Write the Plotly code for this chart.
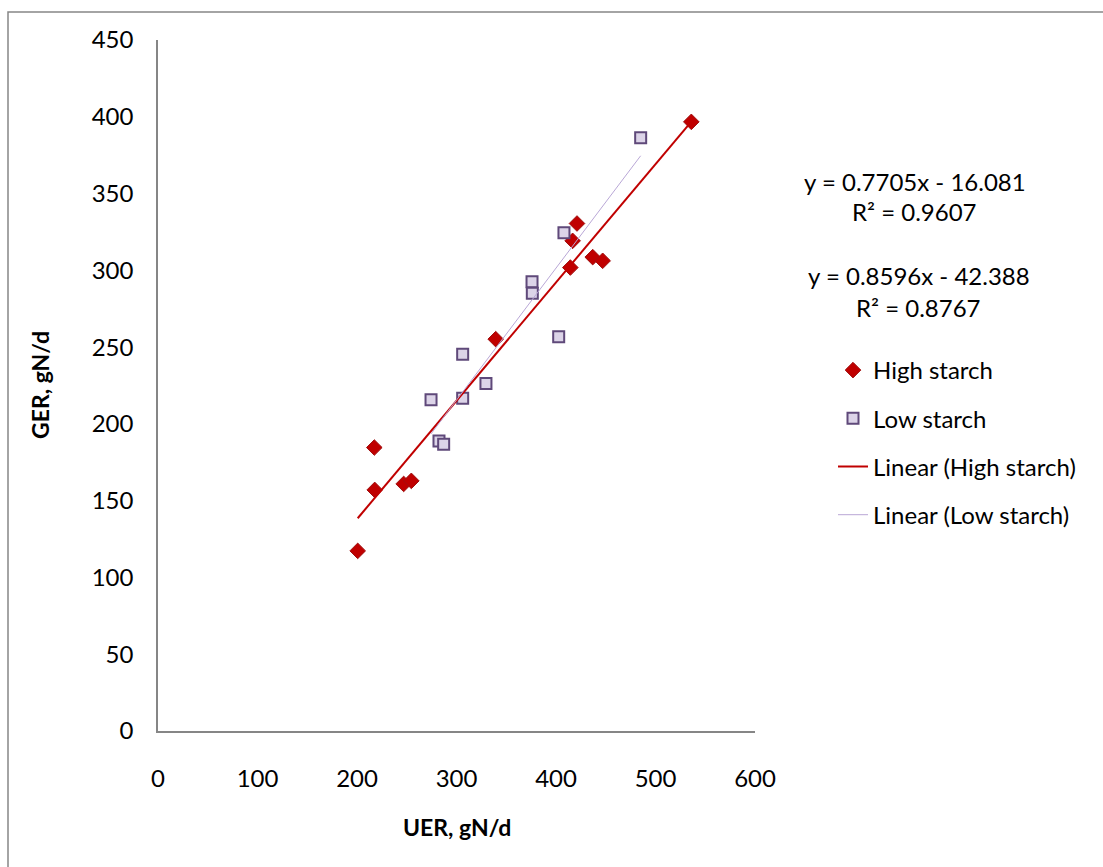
import plotly.graph_objects as go

# ---- data ----
high_x = [200.7, 217.4, 217.8, 246.9, 254.6, 339.4, 414.4, 416.7, 421.1, 436.9, 446.9, 536.0]
high_y = [117.3, 184.6, 157.0, 160.9, 162.9, 255.2, 301.8, 319.2, 330.5, 308.6, 306.2, 396.7]

low_x = [274.4, 282.4, 287.1, 306.2, 306.2, 329.6, 375.9, 376.2, 402.7, 408.0, 485.1]
low_y = [215.8, 188.9, 186.8, 216.7, 245.4, 226.3, 292.5, 285.1, 256.7, 324.4, 386.3]

high_slope, high_intercept = 0.7705, -16.081
low_slope, low_intercept = 0.8596, -42.388
high_r2 = 0.9607
low_r2 = 0.8767

x_ticks = [0, 100, 200, 300, 400, 500, 600]
y_ticks = [0, 50, 100, 150, 200, 250, 300, 350, 400, 450]

FONT = "Lato"
FS = 24
W, H = 1103, 867
L, R, T, B = 158, 348, 40, 136

hx = [min(high_x), max(high_x)]
hy = [high_slope * v + high_intercept for v in hx]
lx = [min(low_x), max(low_x)]
ly = [low_slope * v + low_intercept for v in lx]

fig = go.Figure()
fig.add_trace(go.Scatter(x=high_x, y=high_y, mode="markers", name="High starch",
                         marker=dict(symbol="diamond", size=12, color="#C00000",
                                     line=dict(color="#A01010", width=1)),
                         legendgroup="a"))
fig.add_trace(go.Scatter(x=low_x, y=low_y, mode="markers", name="Low starch",
                         marker=dict(symbol="square", size=11, color="#DCD4E8",
                                     line=dict(color="#5F497A", width=2)),
                         legendgroup="b"))
fig.add_trace(go.Scatter(x=hx, y=hy, mode="lines", name="Linear (High starch)",
                         line=dict(color="#C00000", width=2), legendgroup="c"))
fig.add_trace(go.Scatter(x=lx, y=ly, mode="lines", name="Linear (Low starch)",
                         line=dict(color="#B9A7D6", width=1), legendgroup="d"))

axis_common = dict(showgrid=False, zeroline=False, showline=True,
                   linecolor="#868686", linewidth=1.5, ticks="",
                   tickfont=dict(family=FONT, size=FS, color="#000000"))
fig.update_xaxes(range=[0, 600], tickvals=x_ticks, ticklabelstandoff=25, **axis_common)
fig.update_yaxes(range=[0, 450], tickvals=y_ticks, ticklabelstandoff=18, **axis_common)

pw = W - L - R
ph = H - T - B

def px(xp):
    return (xp - L) / pw

def py(yp):
    return (H - B - yp) / ph

def ann(text, x, y, size=FS, angle=0):
    return dict(text=text, x=px(x), y=py(y), xref="paper", yref="paper",
                xanchor="center", yanchor="middle", showarrow=False, textangle=angle,
                font=dict(family=FONT, size=size, color="#000"))

annotations = [
    ann("<b>UER, gN/d</b>", 457, 827, 23),
    ann("<b>GER, gN/d</b>", 40, 385, 23, -90),
    ann(f"y = {high_slope}x - {abs(high_intercept)}", 915, 181),
    ann(f"R² = {high_r2}", 914, 211),
    ann(f"y = {low_slope}x - {abs(low_intercept)}", 919, 275),
    ann(f"R² = {low_r2}", 918, 307),
]

fig.update_layout(
    width=W, height=H,
    margin=dict(l=L, r=R, t=T, b=B),
    paper_bgcolor="white", plot_bgcolor="white",
    showlegend=True,
    legend=dict(x=px(833), y=py(348), xanchor="left", yanchor="top",
                font=dict(family=FONT, size=FS, color="#000"),
                tracegroupgap=14, bgcolor="rgba(0,0,0,0)"),
    annotations=annotations,
    shapes=[dict(type="rect", xref="paper", yref="paper",
                 x0=px(8), x1=px(1106), y0=py(870), y1=py(12),
                 line=dict(color="#868686", width=1.5), fillcolor="rgba(0,0,0,0)")],
)

fig.write_html("out.html")
